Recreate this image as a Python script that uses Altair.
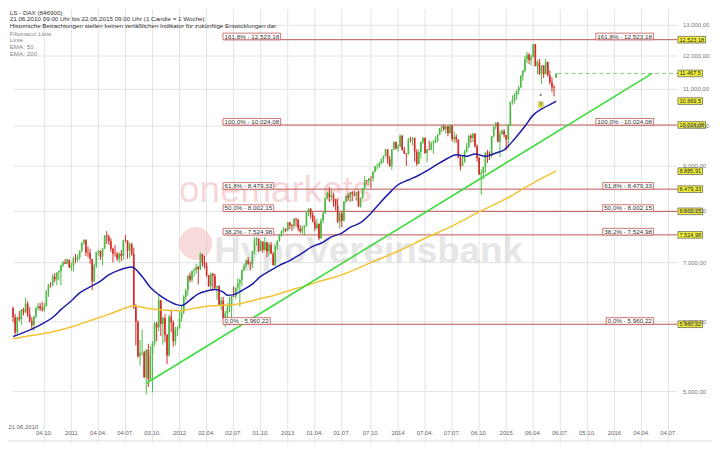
import altair as alt
import pandas as pd

# ------------------------------------------------------------------ data
# weekly candles, DAX, week 0 = 21.06.2010
opens = [
    6216, 6070, 5834, 6066, 6040, 6195, 6148, 6290, 6110, 6006,
    5950, 6080, 6214, 6250, 6210, 6190, 6250, 6490, 6605, 6601,
    6750, 6700, 6820, 6850, 6950, 7000, 6980, 7050, 6914, 6948,
    7075, 7062, 7102, 7216, 7371, 7426, 7185, 7178, 7064, 6664,
    6946, 7197, 7217, 7110, 7264, 7514, 7492, 7401, 7258, 7162,
    7160, 7069, 7165, 7121, 7419, 7415, 7220, 7344, 7158, 6236,
    5997, 5481, 5537, 5539, 5190, 5574, 5164, 5502, 5676, 5970,
    5910, 6346, 5966, 6057, 5800, 5492, 6080, 5987, 5702, 5878,
    5898, 6057, 6143, 6404, 6511, 6766, 6692, 6849, 6864, 6921,
    6880, 7157, 6996, 6947, 6775, 6583, 6801, 6762, 6561, 6580,
    6271, 6340, 6050, 6130, 6230, 6263, 6416, 6410, 6557, 6630,
    6689, 6865, 6944, 7041, 6971, 6970, 7214, 7412, 7451, 7216,
    7398, 7232, 7380, 7204, 7335, 7163, 6950, 7309, 7405, 7518,
    7597, 7636, 7612, 7776, 7715, 7702, 7850, 7833, 7652, 7593,
    7662, 7708, 7986, 8058, 7931, 7795, 7658, 7745, 7459, 7814,
    7962, 8278, 8399, 8305, 8349, 8254, 8127, 7789, 7959, 7806,
    8212, 8331, 8298, 8410, 8367, 8339, 8416, 8103, 8276, 8509,
    8676, 8661, 8725, 8724, 8869, 9001, 9010, 9078, 9168, 9240,
    9405, 9172, 9006, 9400, 9589, 9435, 9473, 9742, 9392, 9306,
    9290, 9662, 9656, 9692, 9350, 9056, 9343, 9588, 9695, 9315,
    9409, 9401, 9556, 9581, 9629, 9768, 9943, 9987, 9912, 9987,
    9815, 10009, 9666, 9720, 9644, 9210, 9009, 9092, 9339, 9470,
    9747, 9691, 9799, 9490, 9196, 8812, 8850, 8988, 9326, 9291,
    9253, 9733, 9980, 10087, 9594, 9787, 9865, 9765, 9648, 10032,
    10649, 10694, 10846, 10963, 11051, 11402, 11551, 11902, 12040, 11869,
    11968, 12375, 11689, 11811, 11454, 11709, 11447, 11815, 11414, 11197,
    11064, 11350,
]
highs = [
    6240, 6120, 6080, 6170, 6200, 6220, 6386, 6330, 6230, 6070,
    6090, 6230, 6300, 6300, 6320, 6300, 6520, 6620, 6650, 6790,
    6810, 6830, 6860, 6960, 7030, 7070, 7077, 7060, 7000, 7110,
    7160, 7150, 7230, 7380, 7440, 7440, 7300, 7260, 7070, 6980,
    7200, 7240, 7230, 7270, 7520, 7600, 7530, 7460, 7280, 7330,
    7200, 7190, 7240, 7430, 7520, 7420, 7380, 7370, 7280, 6280,
    6020, 5720, 5880, 5560, 5590, 5660, 5630, 5700, 6000, 6000,
    6430, 6350, 6080, 6120, 5810, 6110, 6170, 6020, 5920, 5930,
    6180, 6250, 6430, 6540, 6770, 6820, 6860, 6900, 6980, 6940,
    7190, 7160, 7120, 7010, 6780, 6820, 6810, 6800, 6590, 6600,
    6400, 6400, 6170, 6300, 6400, 6420, 6580, 6560, 6720, 6710,
    6880, 6980, 7060, 7100, 7020, 7220, 7480, 7480, 7460, 7420,
    7400, 7480, 7390, 7380, 7390, 7200, 7320, 7420, 7530, 7620,
    7680, 7660, 7780, 7790, 7740, 7860, 7870, 7840, 7720, 7710,
    7720, 8000, 8060, 8070, 8000, 7900, 7850, 7750, 7860, 7990,
    8290, 8420, 8530, 8450, 8400, 8270, 8260, 7990, 8010, 8220,
    8340, 8390, 8420, 8440, 8450, 8420, 8440, 8300, 8510, 8770,
    8680, 8730, 8770, 8880, 9010, 9060, 9100, 9190, 9260, 9410,
    9410, 9250, 9410, 9600, 9600, 9530, 9790, 9770, 9470, 9310,
    9690, 9720, 9710, 9700, 9410, 9400, 9590, 9720, 9700, 9420,
    9630, 9600, 9640, 9730, 9790, 9950, 10010, 10050, 10000, 10000,
    10050, 10010, 9860, 9780, 9660, 9270, 9250, 9390, 9570, 9760,
    9790, 9830, 9810, 9530, 9230, 8930, 9000, 9340, 9390, 9360,
    9740, 9990, 10090, 10090, 9880, 9920, 9920, 9770, 10050, 10650,
    10830, 10900, 10970, 11100, 11410, 11570, 12000, 12130, 12100, 12050,
    12390, 12380, 11870, 11910, 11710, 11720, 11920, 11830, 11560, 11350,
    11120, 11480,
]
lows = [
    5990, 5800, 5810, 6010, 5950, 6100, 6140, 6070, 5990, 5880,
    5860, 6050, 6180, 6170, 6160, 6150, 6240, 6400, 6560, 6580,
    6650, 6600, 6680, 6600, 6920, 6970, 6970, 6900, 6850, 6840,
    6990, 7010, 7050, 7190, 7330, 7120, 7100, 6980, 6514, 6650,
    6900, 7130, 7050, 6950, 7250, 7350, 7330, 7200, 7000, 7110,
    7030, 7000, 7020, 7050, 7380, 7070, 7080, 7120, 6200, 5640,
    5460, 5350, 5490, 5180, 4965, 5060, 5150, 4990, 5630, 5700,
    5850, 5780, 5650, 5690, 5370, 5480, 5840, 5620, 5640, 5780,
    5890, 6000, 6120, 6350, 6420, 6650, 6650, 6750, 6800, 6610,
    6860, 6930, 6890, 6740, 6570, 6500, 6510, 6520, 6350, 6270,
    6180, 6030, 5914, 6030, 6150, 6060, 6400, 6370, 6500, 6240,
    6590, 6850, 6900, 6960, 6860, 6900, 7150, 7320, 7190, 7210,
    7180, 7220, 7100, 7130, 7160, 6950, 6940, 7240, 7390, 7490,
    7560, 7580, 7600, 7640, 7600, 7640, 7690, 7600, 7560, 7530,
    7510, 7690, 7900, 7850, 7770, 7600, 7630, 7420, 7450, 7760,
    7950, 8260, 8200, 8250, 8090, 8020, 7760, 7650, 7680, 7800,
    8170, 8230, 8200, 8220, 8320, 8230, 8100, 8080, 8270, 8450,
    8580, 8570, 8500, 8650, 8860, 8920, 8960, 9040, 9080, 9230,
    9060, 8990, 8920, 9390, 9400, 9350, 9470, 9380, 9290, 9010,
    9280, 9580, 9510, 9110, 9010, 9050, 9180, 9540, 9300, 9100,
    9380, 9380, 9300, 9560, 9580, 9760, 9840, 9870, 9800, 9730,
    9790, 9600, 9560, 9570, 9190, 8900, 9000, 9090, 9330, 9430,
    9570, 9580, 9450, 9110, 8800, 8355, 8700, 8840, 9080, 9150,
    9200, 9700, 9900, 9580, 9220, 9780, 9700, 9380, 9430, 9990,
    10570, 10600, 10700, 10850, 11050, 11250, 11500, 11780, 11750, 11700,
    11960, 11680, 11450, 11420, 11150, 11330, 11440, 11370, 11140, 10920,
    10800, 11330,
]
closes = [
    6070, 5834, 6066, 6040, 6195, 6148, 6290, 6110, 6006, 5950,
    6080, 6214, 6250, 6210, 6190, 6250, 6490, 6605, 6601, 6750,
    6700, 6820, 6850, 6950, 7000, 6980, 7050, 6914, 6948, 7075,
    7062, 7102, 7216, 7371, 7426, 7185, 7178, 7064, 6664, 6946,
    7197, 7217, 7110, 7264, 7514, 7492, 7401, 7258, 7162, 7160,
    7069, 7165, 7121, 7419, 7415, 7220, 7344, 7158, 6236, 5997,
    5481, 5537, 5539, 5190, 5574, 5164, 5502, 5676, 5970, 5910,
    6346, 5966, 6057, 5800, 5492, 6080, 5987, 5702, 5878, 5898,
    6057, 6143, 6404, 6511, 6766, 6692, 6849, 6864, 6921, 6880,
    7157, 6996, 6947, 6775, 6583, 6801, 6762, 6561, 6580, 6271,
    6340, 6050, 6130, 6230, 6263, 6416, 6410, 6557, 6630, 6689,
    6865, 6944, 7041, 6971, 6970, 7214, 7412, 7451, 7216, 7398,
    7232, 7380, 7204, 7335, 7163, 6950, 7309, 7405, 7518, 7597,
    7636, 7612, 7776, 7715, 7702, 7850, 7833, 7652, 7593, 7662,
    7708, 7986, 8058, 7931, 7795, 7658, 7745, 7459, 7814, 7962,
    8278, 8399, 8305, 8349, 8254, 8127, 7789, 7959, 7806, 8212,
    8331, 8298, 8410, 8367, 8339, 8416, 8103, 8276, 8509, 8676,
    8661, 8725, 8724, 8869, 9001, 9010, 9078, 9168, 9240, 9405,
    9172, 9006, 9400, 9589, 9435, 9473, 9742, 9392, 9306, 9290,
    9662, 9656, 9692, 9350, 9056, 9343, 9588, 9695, 9315, 9409,
    9401, 9556, 9581, 9629, 9768, 9943, 9987, 9912, 9987, 9815,
    10009, 9666, 9720, 9644, 9210, 9009, 9092, 9339, 9470, 9747,
    9691, 9799, 9490, 9196, 8812, 8850, 8988, 9326, 9291, 9253,
    9733, 9980, 10087, 9594, 9787, 9865, 9765, 9648, 10032, 10649,
    10694, 10846, 10963, 11051, 11402, 11551, 11902, 12040, 11869, 11968,
    12375, 11689, 11811, 11454, 11709, 11447, 11815, 11414, 11197, 11064,
    11040, 11467.5,
]

ema50_weeks = [0, 9, 14, 19, 23, 28, 32, 37, 42, 46, 51, 57, 62, 66, 70, 74, 79, 81, 85, 89,
               94, 97, 101, 103, 106, 110, 115, 119, 124, 128, 133, 138, 144, 148, 153, 158,
               162, 167, 172, 176, 181, 185, 190, 195, 199, 204, 209, 213, 218, 222, 227, 232,
               236, 241, 246, 250, 255, 260, 261]
ema50_values = [5772, 5884, 5966, 6066, 6192, 6336, 6469, 6570, 6668, 6780, 6864, 6921, 6752,
                6560, 6440, 6347, 6269, 6259, 6347, 6453, 6509, 6525, 6482, 6430, 6439, 6509,
                6618, 6752, 6864, 6950, 7036, 7152, 7302, 7363, 7486, 7561, 7674, 7769, 7964,
                8164, 8402, 8577, 8684, 8792, 8901, 9050, 9190, 9278, 9239, 9295, 9239, 9317,
                9393, 9667, 9993, 10285, 10482, 10630, 10669.5]
ema200_weeks = [0, 9, 19, 28, 37, 46, 54, 58, 62, 66, 74, 80, 85, 90, 96, 100, 105, 111, 119,
                127, 134, 139, 145, 158, 172, 185, 198, 211, 224, 237, 250, 261]
ema200_values = [5740, 5786, 5845, 5918, 6016, 6115, 6218, 6253, 6230, 6205, 6180, 6172, 6200,
                 6230, 6255, 6262, 6270, 6305, 6373, 6441, 6522, 6570, 6640, 6780, 7000, 7210,
                 7460, 7700, 7990, 8270, 8620, 8886]

trend_weeks = [64, 307.2]
trend_values = [5110, 11467.5]
last_price = 11467.5

fib_pct = ["161,8%", "100,0%", "61,8%", "50,0%", "38,2%", "0,0%"]
fib_values = [12523.18, 10024.08, 8479.33, 8002.15, 7524.98, 5960.22]
fib_texts = ["12.523,18", "10.024,08", "8.479,33", "8.002,15", "7.524,98", "5.960,22"]

box_values = [12523.18, 11467.5, 10669.5, 10024.08, 8885.91, 8479.33, 8002.15, 7524.98, 5960.22]
box_texts = ["12.523,18", "11.467,5", "10.669,5", "10.024,08", "8.885,91", "8.479,33",
             "8.002,15", "7.524,98", "5.960,22"]

y_tick_values = [5000, 6000, 7000, 8000, 9000, 10000, 11000, 12000, 13000]
y_tick_labels = ["5.000,00", "6.000,00", "7.000,00", "8.000,00", "9.000,00", "10.000,00",
                 "11.000,00", "12.000,00", "13.000,00"]

x_tick_weeks = [15, 28, 41, 54, 67, 80, 93, 106, 119, 132, 145, 158, 172, 185, 198, 211, 224,
                237, 250, 263, 276, 289, 302, 315]
x_tick_labels = ["04.10.", "2011", "04.04.", "04.07.", "03.10.", "2012", "02.04.", "02.07.",
                 "01.10.", "2013", "01.04.", "01.07.", "07.10.", "2014", "07.04.", "07.07.",
                 "06.10.", "2015", "06.04.", "06.07.", "05.10.", "2016", "04.04.", "04.07."]
x_start_label = "21.06.2010"

header_lines = ["LS - DAX (846900)",
                "21.06.2010 09:00 Uhr bis 22.06.2015 09:00 Uhr (1 Candle = 1 Woche)",
                "Historische Betrachtungen stellen keinen verläßlichen Indikator für zukünftige Entwicklungen dar."]
legend_lines = ["Fibonacci Linie", "Linie", "EMA: 50", "EMA: 200"]

marker_value_triangle = 10851
marker_value_box = 10568
marker_text = "8"

# ------------------------------------------------------------------ layout
assert len(opens) == len(highs) == len(lows) == len(closes) == 262
assert len(ema50_weeks) == len(ema50_values)
assert len(ema200_weeks) == len(ema200_values)

W, H = 708, 436
REF_W, REF_H = 720.0, 457.0
SX, SY = W / REF_W, H / REF_H
X_DOMAIN = [-0.06, 333.53]
Y_DOMAIN = [4374.6, 13558.7]
PPW = W / (X_DOMAIN[1] - X_DOMAIN[0])
FONT = "Liberation Sans"


def wk(ref_px):
    return X_DOMAIN[0] + ref_px / REF_W * (X_DOMAIN[1] - X_DOMAIN[0])


EM = {",": 0.278, ".": 0.278, "%": 0.889, " ": 0.278, "-": 0.333}


def text_w(s, size):
    return sum(EM.get(ch, 0.556) for ch in s) * size


xs = alt.Scale(domain=X_DOMAIN, nice=False, zero=False)
ys = alt.Scale(type="log", domain=Y_DOMAIN, nice=False, zero=False)


def X(f):
    return alt.X(f, type="quantitative", scale=xs, axis=None)


def Y(f):
    return alt.Y(f, type="quantitative", scale=ys, axis=None)


one = pd.DataFrame({"a": [0]})

# vertical grid + x labels (inside the plot, as in the reference)
xt = pd.DataFrame({"w": x_tick_weeks, "t": x_tick_labels})
vgrid = alt.Chart(xt).mark_rule(color="#e3e3e3", strokeWidth=1).encode(
    x=X("w"), y=alt.value(0), y2=alt.value(H))
xlabels = alt.Chart(xt).mark_text(font=FONT, fontSize=6, color="#666", align="center",
                                  baseline="middle").encode(
    x=X("w"), y=alt.value(447 * SY), text="t:N")
bottom_line = alt.Chart(one).mark_rule(color="#dcdcdc", strokeWidth=1).encode(
    x=alt.value(0), x2=alt.value(W), y=alt.value(455 * SY))

# watermarks
wm_circle = alt.Chart(one).mark_circle(color="#f1bcbc", opacity=0.55, size=3.1416 * (19 * SX) ** 2).encode(
    x=alt.value(192 * SX), y=alt.value(247 * SY))
wm_one = alt.Chart(one).mark_text(text="onemarkets", font=FONT, fontSize=37, color="#eeb0b0",
                                  align="left", baseline="alphabetic", opacity=0.5).encode(
    x=alt.value(175 * SX), y=alt.value(203 * SY))
wm_hypo = alt.Chart(one).mark_text(text="HypoVereinsbank", font=FONT, fontSize=37, fontWeight="bold",
                                   color="#d6d6d6", align="left", baseline="alphabetic",
                                   opacity=0.6).encode(
    x=alt.value(211 * SX), y=alt.value(268 * SY))

# horizontal grid
hg = pd.DataFrame({"v": y_tick_values, "x0": X_DOMAIN[0], "x1": wk(689)})
hgrid = alt.Chart(hg).mark_rule(color="#e3e3e3", strokeWidth=1).encode(
    x=X("x0"), x2="x1", y=Y("v"))

ylab = pd.DataFrame({"v": y_tick_values, "t": y_tick_labels, "x": wk(695)})
ylabels = alt.Chart(ylab).mark_text(align="left", baseline="middle", font=FONT, fontSize=6,
                                    color="#777").encode(x=X("x"), y=Y("v"), text="t:N")

# fibonacci
fib_labels = [p + " - " + t for p, t in zip(fib_pct, fib_texts)]
FIB_FS = 6.3
fw = [text_w(s, FIB_FS) + 3 for s in fib_labels]
left0 = wk(218.3)
right0 = wk(664)
fib = pd.DataFrame({
    "v": fib_values, "label": fib_labels, "w": fw,
    "x0": left0, "x1": wk(689),
    "cl": [left0 + w / 2 / PPW for w in fw],
    "cr": [right0 - w / 2 / PPW for w in fw],
})
fib_lines = alt.Chart(fib).mark_rule(color="#c25552", strokeWidth=1).encode(
    x=X("x0"), x2="x1", y=Y("v"))
box_kw = dict(orient="horizontal", thickness=7 * SY, fill="white", stroke="#c25552",
              strokeWidth=0.8, opacity=1, yOffset=-3.4 * SY)
fib_box_l = alt.Chart(fib).mark_tick(**box_kw).encode(
    x=X("cl"), y=Y("v"), size=alt.Size("w:Q", scale=None, legend=None))
fib_box_r = alt.Chart(fib).mark_tick(**box_kw).encode(
    x=X("cr"), y=Y("v"), size=alt.Size("w:Q", scale=None, legend=None))
txt_kw = dict(align="center", baseline="middle", font=FONT, fontSize=FIB_FS, color="#333",
              dy=-3.3 * SY)
fib_txt_l = alt.Chart(fib).mark_text(**txt_kw).encode(x=X("cl"), y=Y("v"), text="label:N")
fib_txt_r = alt.Chart(fib).mark_text(**txt_kw).encode(x=X("cr"), y=Y("v"), text="label:N")

# EMAs and trend line
e50 = pd.DataFrame({"w": ema50_weeks, "v": ema50_values})
e200 = pd.DataFrame({"w": ema200_weeks, "v": ema200_values})
ema50 = alt.Chart(e50).mark_line(color="#1c1ca8", strokeWidth=1.5, interpolate="monotone").encode(
    x=X("w"), y=Y("v"))
ema200 = alt.Chart(e200).mark_line(color="#f3c233", strokeWidth=1.5, interpolate="monotone").encode(
    x=X("w"), y=Y("v"))
tr = pd.DataFrame({"w": trend_weeks, "v": trend_values})
trend = alt.Chart(tr).mark_line(color="#3fdc3f", strokeWidth=1.6).encode(x=X("w"), y=Y("v"))
dl = pd.DataFrame({"x0": [wk(565)], "x1": [wk(690)], "v": [last_price]})
dashed = alt.Chart(dl).mark_rule(color="#7ccc7c", strokeWidth=1, strokeDash=[4, 3]).encode(
    x=X("x0"), x2="x1", y=Y("v"))

# candles
n = len(closes)
cdf = pd.DataFrame({"week": list(range(n)), "o": opens, "h": highs, "l": lows, "c": closes})
cdf["dir"] = ["up" if c >= o else "down" for o, c in zip(opens, closes)]
cscale = alt.Scale(domain=["up", "down"], range=["#4fba47", "#d42e29"])
wicks = alt.Chart(cdf).mark_rule(strokeWidth=1).encode(
    x=X("week"), y=Y("l"), y2="h:Q",
    color=alt.Color("dir:N", scale=cscale, legend=None))
bodies = alt.Chart(cdf).mark_bar(size=1.7).encode(
    x=X("week"), y=Y("o"), y2="c:Q", color=alt.Color("dir:N", scale=cscale, legend=None))

# right value boxes
VB_FS = 5.6
bw = [text_w(s, VB_FS) + 3 for s in box_texts]
bl = wk(690)
vb = pd.DataFrame({"v": box_values, "t": box_texts, "w": bw,
                   "cx": [bl + w / 2 / PPW for w in bw]})
vboxes = alt.Chart(vb).mark_tick(orient="horizontal", thickness=7 * SY, fill="#f4f23c",
                                 stroke="#555", strokeWidth=0.7, opacity=1).encode(
    x=X("cx"), y=Y("v"), size=alt.Size("w:Q", scale=None, legend=None))
vtexts = alt.Chart(vb).mark_text(align="center", baseline="middle", font=FONT, fontSize=VB_FS,
                                 color="#222").encode(x=X("cx"), y=Y("v"), text="t:N")

# event marker
mk = pd.DataFrame({"x": [wk(547.5)], "vt": [marker_value_triangle], "vb": [marker_value_box],
                   "t": [marker_text]})
m_tri = alt.Chart(mk).mark_point(shape="triangle-up", filled=True, color="#9a9a9a", size=12,
                                 opacity=1).encode(x=X("x"), y=Y("vt"))
m_box = alt.Chart(mk).mark_tick(orient="horizontal", thickness=6, size=5, fill="#eeee33",
                                stroke="#999", strokeWidth=0.5, opacity=1).encode(
    x=X("x"), y=Y("vb"))
m_txt = alt.Chart(mk).mark_text(fontSize=4.5, font=FONT, color="#555", baseline="middle").encode(
    x=X("x"), y=Y("vb"), text="t:N")

# texts
x0_label = alt.Chart(one).mark_text(text=x_start_label, font=FONT, fontSize=6, color="#666",
                                    align="left", baseline="middle").encode(
    x=alt.value(0.5), y=alt.value(440 * SY))
header = alt.Chart(one).mark_text(text=header_lines, font=FONT, fontSize=6.3, color="#333",
                                  align="left", baseline="top", lineHeight=6.4).encode(
    x=alt.value(1.7), y=alt.value(0.8))
legend = alt.Chart(one).mark_text(text=legend_lines, font=FONT, fontSize=6.3, color="#888",
                                  align="left", baseline="top", lineHeight=6.9).encode(
    x=alt.value(1.7), y=alt.value(22.5 * SY))

chart = alt.layer(
    vgrid, bottom_line, wm_circle, wm_one, wm_hypo, hgrid, fib_lines, wicks, bodies, ema200,
    ema50, trend, dashed, fib_box_l, fib_box_r, fib_txt_l, fib_txt_r, vboxes, vtexts, ylabels,
    m_tri, m_box, m_txt, xlabels, x0_label, header, legend,
).properties(
    width=W, height=H, autosize=alt.AutoSizeParams(type="none"), padding=0, background="white"
).configure_view(stroke=None)

chart.save("out.html", embed_options={"renderer": "svg", "actions": False})
